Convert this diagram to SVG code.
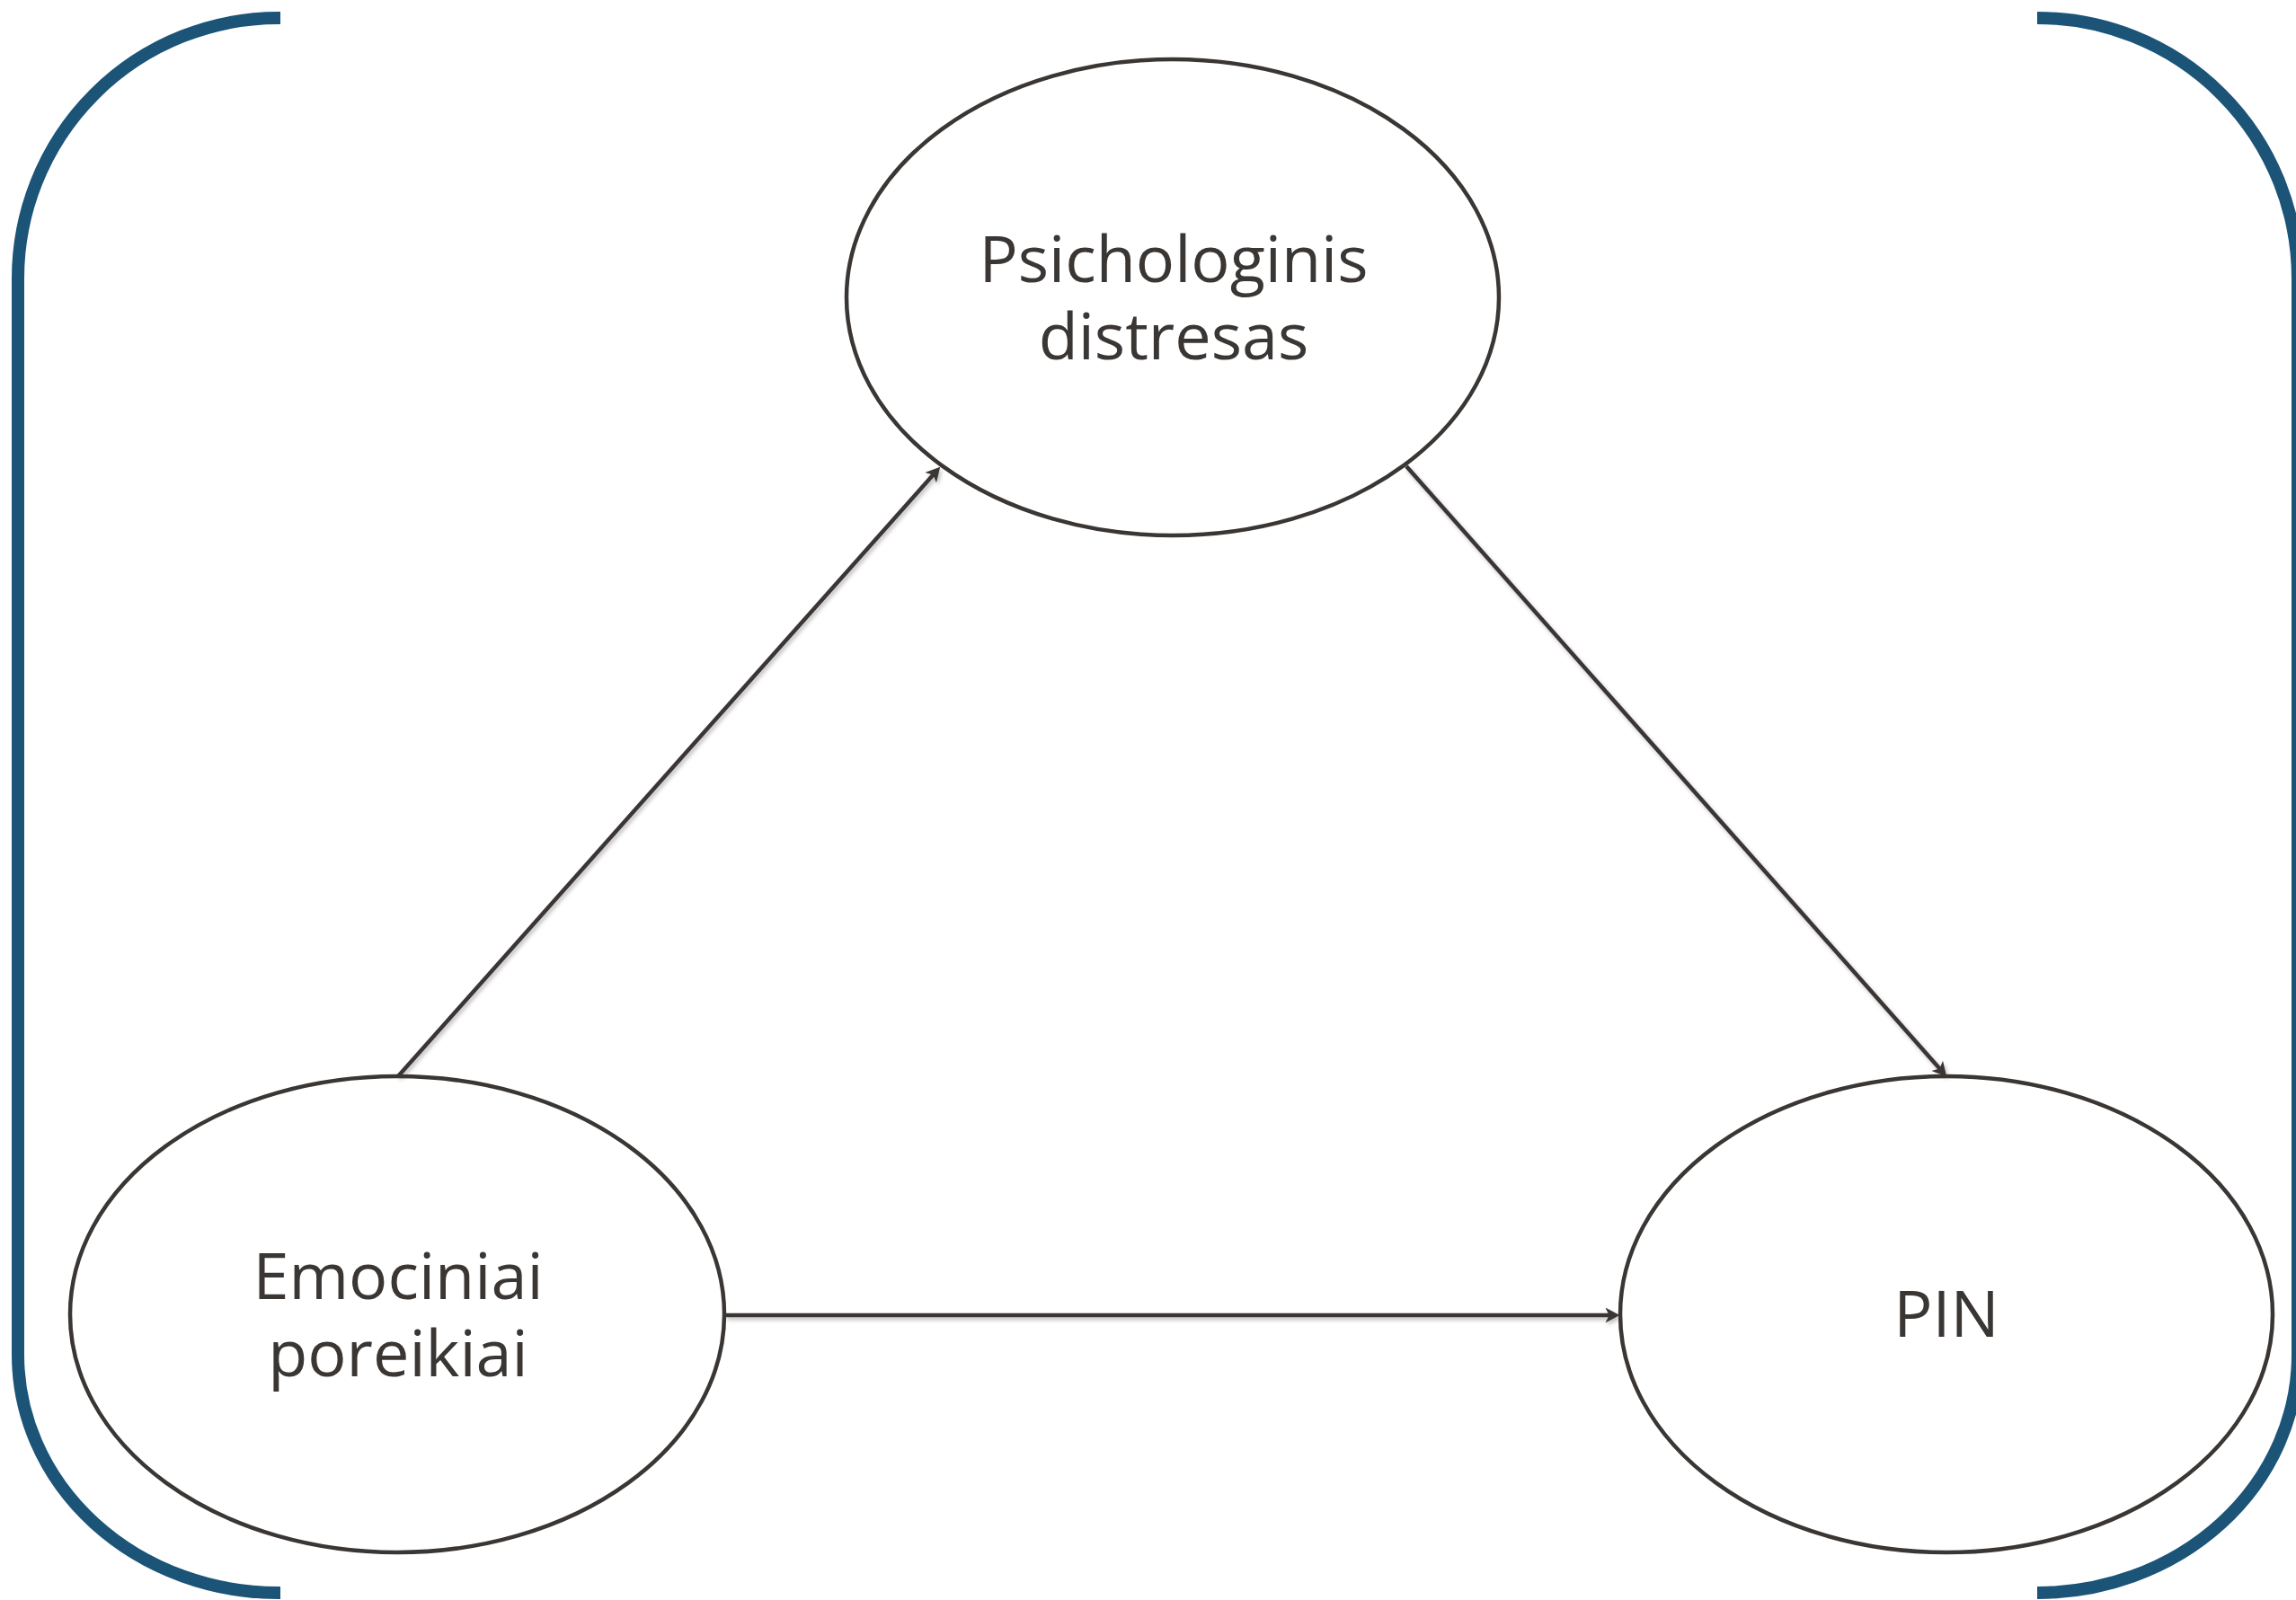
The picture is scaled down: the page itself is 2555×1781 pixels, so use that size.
<svg xmlns="http://www.w3.org/2000/svg" width="2555" height="1781" viewBox="0 0 2555 1781">
  <style>
    .bracket { fill: none; stroke: #1b5477; stroke-width: 14; stroke-linecap: butt; }
    .node { fill: none; stroke: #3a3634; stroke-width: 4.5; }
    .label { font-family: "Open Sans", "Liberation Sans", sans-serif; font-size: 72px; fill: #3a3634; text-anchor: middle; }
    .conn { fill: none; stroke: #3a3634; stroke-width: 4.5; }
  </style>
  <defs>
    <marker id="arrow" markerUnits="userSpaceOnUse" markerWidth="17" markerHeight="17" viewBox="0 0 15 16" refX="9" refY="8" orient="auto">
      <path d="M0,0 L15,8 L0,16 L4,8 z" fill="#3a3634"/>
    </marker>
    <filter id="shadow" x="-5%" y="-5%" width="110%" height="110%">
      <feDropShadow dx="2" dy="3" stdDeviation="2" flood-color="#000000" flood-opacity="0.25"/>
    </filter>
  </defs>
  <rect width="2555" height="1781" fill="#ffffff"/>
  <g id="brackets">
    <path class="bracket" d="M 312 20 L 310 20 A 290 290 0 0 0 20 310 L 20 1508 A 290 265 0 0 0 310 1773 L 312 1773"/>
    <path class="bracket" d="M 2267 20 A 290 290 0 0 1 2557 310 L 2557 1508 A 290 265 0 0 1 2267 1773"/>
  </g>
  <g id="connectors" filter="url(#shadow)">
    <path class="conn" d="M 443 1198 L 1042 524.5" marker-end="url(#arrow)"/>
    <path class="conn" d="M 1565 519 L 2162 1193.5" marker-end="url(#arrow)"/>
    <path class="conn" d="M 807 1464 L 1796 1464" marker-end="url(#arrow)"/>
  </g>
  <g id="node-psichologinis">
    <ellipse class="node" cx="1305" cy="331" rx="363" ry="265"/>
    <text class="label" x="1306" y="314">Psichologinis</text>
    <text class="label" x="1306" y="400">distresas</text>
  </g>
  <g id="node-emociniai">
    <ellipse class="node" cx="442" cy="1463" rx="364" ry="265"/>
    <text class="label" x="443" y="1446">Emociniai</text>
    <text class="label" x="443" y="1532">poreikiai</text>
  </g>
  <g id="node-pin">
    <ellipse class="node" cx="2166" cy="1463" rx="363" ry="265"/>
    <text class="label" x="2166" y="1488">PIN</text>
  </g>
</svg>
